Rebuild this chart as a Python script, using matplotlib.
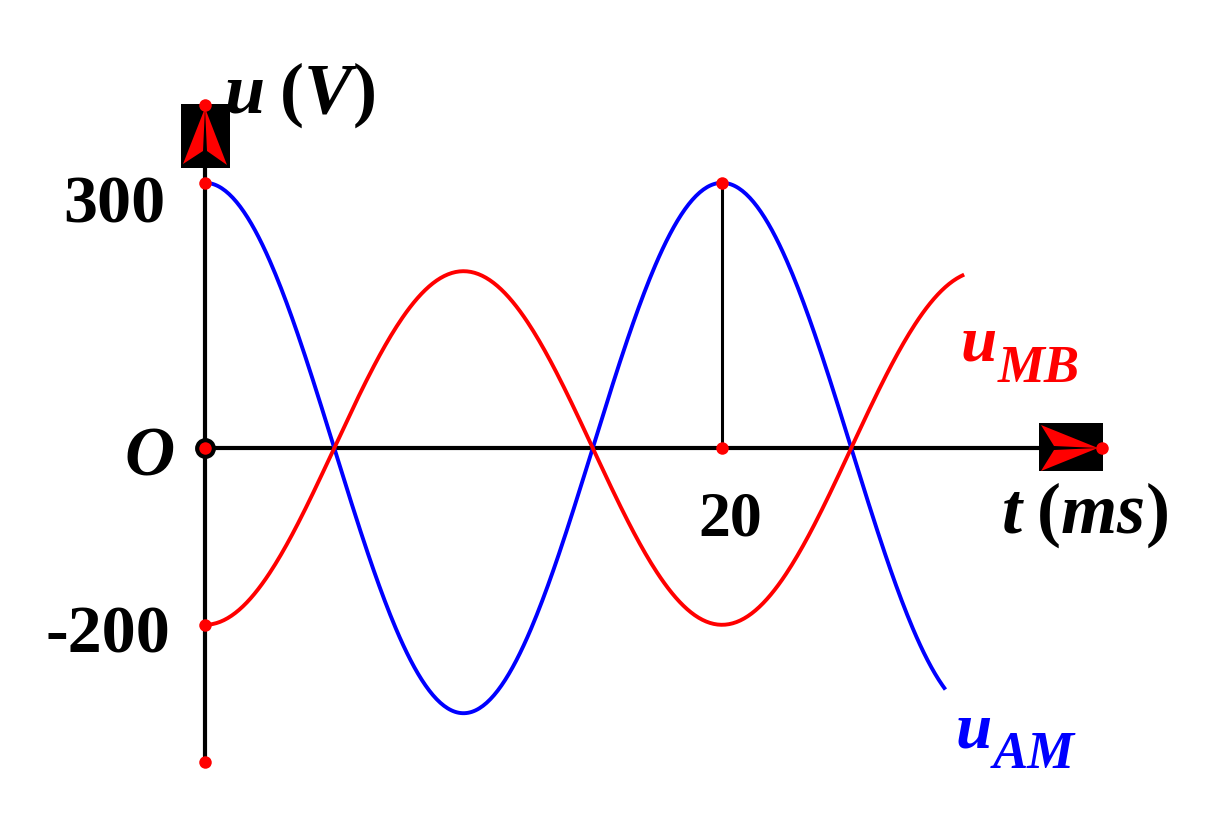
import numpy as np
import matplotlib
matplotlib.use('Agg')
import matplotlib.pyplot as plt
from matplotlib.patches import Polygon, Rectangle

plt.rcParams['font.family'] = ['Liberation Serif', 'DejaVu Serif']
plt.rcParams['mathtext.fontset'] = 'custom'
plt.rcParams['mathtext.rm'] = 'Liberation Serif:bold'
plt.rcParams['mathtext.it'] = 'Liberation Serif:bold:italic'
plt.rcParams['mathtext.bf'] = 'Liberation Serif:bold'

# values
period_ms = 20.0
amp_am = 300.0      # u_AM = 300 cos(2*pi*t/T)
amp_mb = -200.0     # u_MB = -200 cos(2*pi*t/T)
t_end_am = 28.6
t_end_mb = 29.3
y_ticks = [300, -200]
y_tick_labels = ['300', '-200']
x_ticks = [20]
x_tick_labels = ['20']
marked_points = [(0, 300), (0, -200), (20, 300), (20, 0)]

# pixel geometry of the reference (origin at 205, 448)
X0, Y0 = 205.0, 448.0
SX, SY = 25.85, 0.884
W, H = 1211, 825


def d(px, py):
    # pixel position -> data coords
    return (px - X0) / SX, (Y0 - py) / SY


fig = plt.figure(figsize=(W / 100, H / 100), dpi=100)
ax = fig.add_axes([0, 0, 1, 1])
ax.set_xlim(d(0, 0)[0], d(W, 0)[0])
ax.set_ylim(d(0, H)[1], d(0, 0)[1])
ax.axis('off')

# axes
x_top = d(0, 105)[1]
y_bot = d(0, 762)[1]
x_right = d(1102, 0)[0]
ax.plot([0, 0], [y_bot, x_top], color='black', lw=3, zorder=2, solid_capstyle='butt')
ax.plot([0, x_right], [0, 0], color='black', lw=3, zorder=2, solid_capstyle='butt')

# curves
t_am = np.linspace(0, t_end_am, 400)
t_mb = np.linspace(0, t_end_mb, 400)
ax.plot(t_am, amp_am * np.cos(2 * np.pi * t_am / period_ms), color='#0000ff', lw=2.8, zorder=3)
ax.plot(t_mb, amp_mb * np.cos(2 * np.pi * t_mb / period_ms), color='#ff0000', lw=2.8, zorder=3)

# vertical marker line at t=20
ax.plot([20, 20], [0, 300], color='black', lw=2.2, zorder=2)


# arrow boxes
def box(x1, y1, x2, y2):
    (a, b), (c, e) = d(x1, y2), d(x2, y1)
    ax.add_patch(Rectangle((a, b), c - a, e - b, facecolor='black', edgecolor='none', zorder=4))


box(181, 104, 230, 168)
for pts in ([(205, 108), (183, 164), (203, 151)], [(205, 108), (227, 165), (207, 151)]):
    ax.add_patch(Polygon([d(*p) for p in pts], closed=True, facecolor='#ff0000', edgecolor='none', zorder=5))
box(1039, 423, 1103, 471)
for pts in ([(1098, 448), (1041, 425), (1054, 446)], [(1098, 448), (1041, 471), (1054, 450)]):
    ax.add_patch(Polygon([d(*p) for p in pts], closed=True, facecolor='#ff0000', edgecolor='none', zorder=5))

# red dots
dots = marked_points + [(0, x_top), (0, y_bot), (x_right, 0)]
ax.plot([p[0] for p in dots], [p[1] for p in dots], 'o', color='#ff0000', ms=9, mec='none', zorder=6)
ax.plot([0], [0], 'o', color='#ff0000', ms=12, mec='black', mew=3, zorder=7)


def txt(px, py, s, size, color='black', italic=False, ha='left'):
    ax.text(*d(px, py), s, ha=ha, va='baseline', fontsize=size, fontweight='bold',
            style='italic' if italic else 'normal', color=color)


# tick labels
for v, s, right in zip(y_ticks, y_tick_labels, [165, 170]):
    txt(right, Y0 - v * SY + (223 - 183 if v > 0 else 653 - 625), s, 49, ha='right')
for t, s in zip(x_ticks, x_tick_labels):
    txt(X0 + t * SX + 8, 535, s, 46, ha='center')
txt(175, 475, 'O', 50, italic=True, ha='right')

# axis titles (mathtext: letters italic, brackets upright)
txt(224, 113, r'$u\;(V)$', 52)
txt(1001, 533, r'$t\;(ms)$', 52)

# curve labels
txt(961, 360, 'u', 47, color='#ff0000', italic=True)
txt(998, 382, 'MB', 38, color='#ff0000', italic=True)
txt(956, 748, 'u', 47, color='#0000ff', italic=True)
txt(993, 768, 'AM', 38, color='#0000ff', italic=True)

fig.savefig('out.png', dpi=100)
